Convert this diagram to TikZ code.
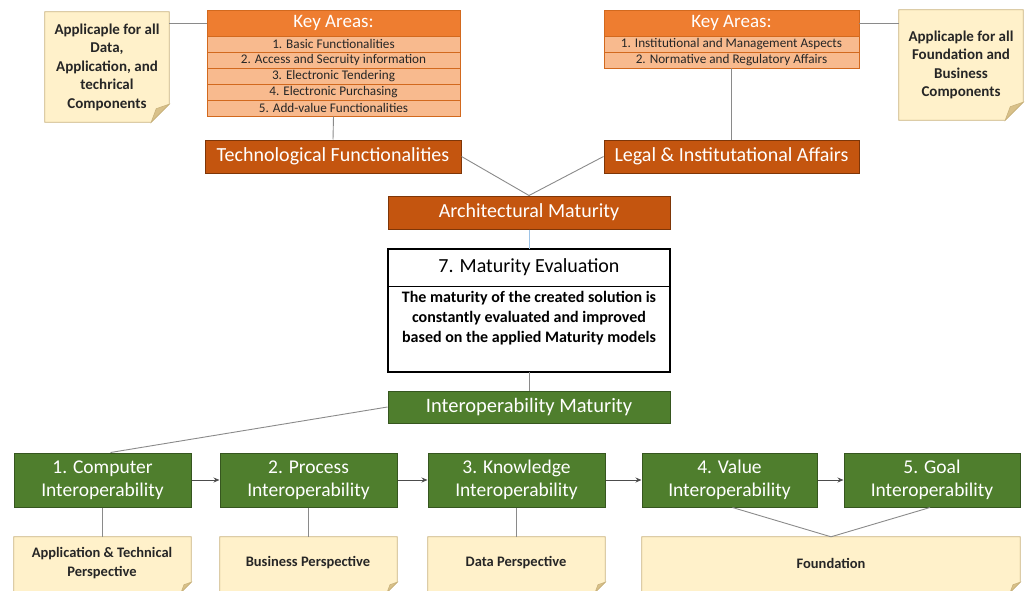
\documentclass[tikz,border=0pt]{standalone}
\usepackage{fontspec}
\setmainfont{Carlito}
\usetikzlibrary{arrows.meta,backgrounds}

\definecolor{hdrorange}{HTML}{EE7D30}
\definecolor{roworange}{HTML}{F8BA8E}
\definecolor{rowline}{HTML}{D2691E}
\definecolor{darkorange}{HTML}{C4550F}
\definecolor{darkoline}{HTML}{7E3608}
\definecolor{boxgreen}{HTML}{4F7E2D}
\definecolor{greenline}{HTML}{36561F}
\definecolor{notefill}{HTML}{FFF1CA}
\definecolor{noteline}{HTML}{C9B27C}
\definecolor{notefold}{HTML}{D9C189}
\definecolor{linkgray}{HTML}{8A8A8A}
\definecolor{linkblue}{HTML}{9DC3E6}

% node spanning x1..x2, y1..y2 (pixel units, y downwards)
\newcommand\boxat[7]{\node[#2, minimum width={#5pt-#3pt}, minimum height={#6pt-#4pt}] (#1) at ({(#3+#5)/2},{(#4+#6)/2}) {#7};}
% sticky-note outline with a folded lower right corner
\newcommand\notefoldbg[2]{%
  \begin{scope}[on background layer]
    \filldraw[fill=notefill, draw=noteline, line width=0.8pt]
      (#1.north west) -- (#1.north east) -- ([yshift=#2pt]#1.south east)
      -- ([xshift=-#2pt]#1.south east) -- (#1.south west) -- cycle;
    \filldraw[fill=notefold, draw=noteline, line width=0.6pt]
      ([yshift=#2pt]#1.south east) -- ([xshift={-0.72*#2pt}, yshift={0.75*#2pt}]#1.south east)
      -- ([xshift=-#2pt]#1.south east) -- cycle;
  \end{scope}}

\tikzset{
  basebox/.style={rectangle, inner sep=0pt, align=center},
  keyhead/.style={basebox, fill=hdrorange, draw=rowline, line width=0.6pt, text=white,
    font=\fontsize{19}{21}\selectfont},
  keyrow/.style={basebox, fill=roworange, draw=rowline, line width=0.6pt, text=black!85,
    font=\fontsize{13.2}{14}\selectfont},
  darkbox/.style={basebox, fill=darkorange, draw=darkoline, line width=1pt, text=white,
    font=\fontsize{20}{22}\selectfont},
  greenbox/.style={basebox, fill=boxgreen, draw=greenline, line width=1pt, text=white,
    font=\fontsize{19.5}{23}\selectfont},
  evalhead/.style={basebox, draw=black, line width=0.6pt, font=\fontsize{20}{22}\selectfont},
  evalbody/.style={basebox, draw=black, line width=0.6pt},
  evaltext/.style={basebox, font=\bfseries\fontsize{16}{20}\selectfont},
  topnote/.style={basebox, font=\bfseries\fontsize{15}{18.5}\selectfont, text=black!85},
  bottomnote/.style={basebox, font=\bfseries\fontsize{14.5}{19}\selectfont, text=black!85},
  link/.style={draw=linkgray, line width=0.9pt},
  flow/.style={draw=black!70, line width=0.9pt, -{Stealth[length=6pt,width=5pt]}}
}

\begin{document}
\begin{tikzpicture}[x=1pt, y=-1pt]
\useasboundingbox (0,0) rectangle (1030,591);
\clip (0,0) rectangle (1030,591);

% left key areas table
\boxat{kl0}{keyhead}{207}{10}{460}{36}{Key Areas:}
\boxat{kl1}{keyrow}{207}{36}{460}{52}{1. Basic Functionalities}
\boxat{kl2}{keyrow}{207}{52}{460}{68}{2. Access and Secruity information}
\boxat{kl3}{keyrow}{207}{68}{460}{84}{3. Electronic Tendering}
\boxat{kl4}{keyrow}{207}{84}{460}{100}{4. Electronic Purchasing}
\boxat{kl5}{keyrow}{207}{100}{460}{116}{5. Add-value Functionalities}

% right key areas table
\boxat{kr0}{keyhead}{604}{10}{859}{36}{Key Areas:}
\boxat{kr1}{keyrow}{604}{36}{859}{52}{1. Institutional and Management Aspects}
\boxat{kr2}{keyrow}{604}{52}{859}{68}{2. Normative and Regulatory Affairs}

% top notes
\boxat{nl}{topnote}{45}{12}{169}{122}{Applicaple for all\\Data,\\Application, and\\techrical\\Components}
\notefoldbg{nl}{18}
\boxat{nr}{topnote}{899}{10}{1023}{120}{Applicaple for all\\Foundation and\\Business\\Components}
\notefoldbg{nr}{18}

% architecture branch
\boxat{tf}{darkbox}{205}{140}{461}{173}{Technological Functionalities}
\boxat{la}{darkbox}{604}{140}{859}{173}{Legal \& Institutational Affairs}
\boxat{am}{darkbox}{388}{196}{670}{229}{Architectural Maturity}

% maturity evaluation
\boxat{met}{evalhead}{388}{249}{670}{286}{7. Maturity Evaluation}
\boxat{meb}{evalbody}{388}{286}{670}{372}{}
\node[evaltext, anchor=north] (mebtext) at (529,291)
  {The maturity of the created solution is\\constantly evaluated and improved\\based on the applied Maturity models};
\draw[line width=2pt] (met.north west) rectangle (meb.south east);

% interoperability branch
\boxat{im}{greenbox}{388}{391}{670}{423}{\fontsize{20.5}{22}\selectfont Interoperability Maturity}
\boxat{c1}{greenbox}{14}{453}{191}{507}{1. Computer\\Interoperability}
\boxat{c2}{greenbox}{220}{453}{397}{507}{2. Process\\Interoperability}
\boxat{c3}{greenbox}{428}{453}{605}{507}{3. Knowledge\\Interoperability}
\boxat{c4}{greenbox}{642}{453}{817}{507}{4. Value\\Interoperability}
\boxat{c5}{greenbox}{844}{453}{1020}{507}{5. Goal\\Interoperability}

% bottom notes
\boxat{n1}{bottomnote}{14}{537}{191}{592}{}
\notefoldbg{n1}{10}
\node[bottomnote] (n1t) at (102,563) {Application \& Technical\\Perspective};
\boxat{n2}{bottomnote}{220}{537}{397}{592}{}
\notefoldbg{n2}{10}
\node[bottomnote] (n2t) at (308,563) {Business Perspective};
\boxat{n3}{bottomnote}{428}{537}{605}{592}{}
\notefoldbg{n3}{10}
\node[bottomnote] (n3t) at (516,563) {Data Perspective};
\boxat{n4}{bottomnote}{642}{537}{1020}{592}{}
\notefoldbg{n4}{10}
\node[bottomnote] (n4t) at (831,563) {Foundation};

% connectors
\path[link] (nl.east |- kl0.west) -- (kl0.west);
\path[link] (kr0.east) -- (nr.west |- kr0.east);
\path[link] (kl5.south) -- (tf.north);
\path[link] (kr2.south) -- (la.north);
\path[link] (tf.east) -- (am.north);
\path[link] (la.west) -- (am.north);
\draw[draw=linkblue, line width=0.9pt] (am.south) -- (met.north);
\path[link] (meb.south) -- (im.north);
\path[link] (im.west) -- ([xshift=8pt]c1.north);
\path[flow] (c1.east) -- (c2.west);
\path[flow] (c2.east) -- (c3.west);
\path[flow] (c3.east) -- (c4.west);
\path[flow] (c4.east) -- (c5.west);
\path[link] (c1.south) -- (n1.north);
\path[link] (c2.south) -- (n2.north);
\path[link] (c3.south) -- (n3.north);
\path[link] ([xshift=3pt]c4.south) -- (n4.north);
\path[link] ([xshift=-2pt]c5.south) -- (n4.north);
\end{tikzpicture}
\end{document}
